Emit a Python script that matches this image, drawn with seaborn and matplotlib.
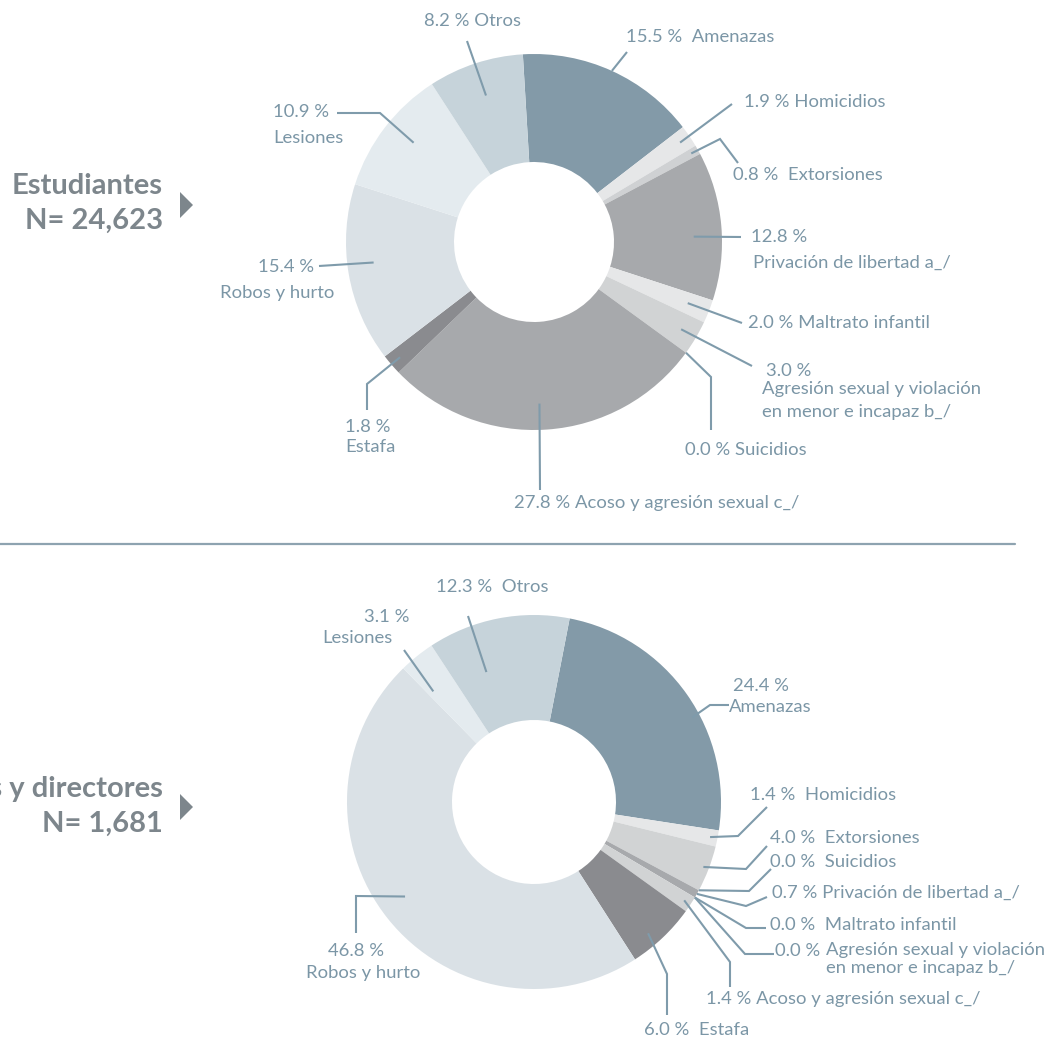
import matplotlib
matplotlib.use("Agg")
import matplotlib.pyplot as plt
from matplotlib.patches import Polygon
import numpy as np
import seaborn as sns

# ---------------- data ----------------
cats_top = ["Amenazas", "Homicidios", "Extorsiones", "Privación de libertad a_/",
            "Maltrato infantil", "Agresión sexual y violación en menor e incapaz b_/",
            "Suicidios", "Acoso y agresión sexual c_/", "Estafa", "Robos y hurto",
            "Lesiones", "Otros"]
vals_top = [15.5, 1.9, 0.8, 12.8, 2.0, 3.0, 0.0, 27.8, 1.8, 15.4, 10.9, 8.2]

cats_bot = ["Amenazas", "Homicidios", "Extorsiones", "Suicidios",
            "Privación de libertad a_/", "Maltrato infantil",
            "Agresión sexual y violación en menor e incapaz b_/",
            "Acoso y agresión sexual c_/", "Estafa", "Robos y hurto",
            "Lesiones", "Otros"]
vals_bot = [24.4, 1.4, 4.0, 0.0, 0.7, 0.0, 0.0, 1.4, 6.0, 46.8, 3.1, 12.3]

group_titles = [["Estudiantes", "N= 24,623"], ["Docentes y directores", "N= 1,681"]]

# ---------------- style ----------------
colors_top = ["#839aa8", "#e6e7e8", "#cfd1d3", "#a7a9ac", "#e6e7e8", "#d1d3d4",
              "#d1d3d4", "#a7a9ac", "#8a8b8f", "#dae1e6", "#e4ebef", "#c6d3da"]
colors_bot = ["#839aa8", "#e6e7e8", "#d1d3d4", "#d1d3d4", "#a7a9ac", "#e6e7e8",
              "#d1d3d4", "#d1d3d4", "#8a8b8f", "#dae1e6", "#e4ebef", "#c6d3da"]
LABEL_C = "#7b96a6"
LINE_C = "#7f9bab"
TITLE_C = "#7d868c"
LFS = 13.3
TFS = 21
W, H = 1053, 1040

sns.set_theme(style="white")
plt.rcParams["font.family"] = ["Lato", "DejaVu Sans"]

def Y(y):
    return H - y

def pct(v):
    return f"{v:.1f} %"

# layout: (start radius fraction, angle offset deg, extra path points (image px),
#          text lines (fmt, x, y, ha))
lay_top = {
    "Otros": (0.82, 0, [(467, 41)], [("{p} Otros", 472, 21, "center")]),
    "Amenazas": (1.0, 0, [(627, 52)], [("{p}  Amenazas", 626, 37, "left")]),
    "Homicidios": (0.94, 0, [(732, 104)], [("{p} Homicidios", 744, 102, "left")]),
    "Extorsiones": (0.96, 0, [(720, 139), (738, 163)], [("{p}  Extorsiones", 733, 175, "left")]),
    "Privación de libertad a_/": (0.85, -3, [(741, 237)], [("{p}", 751, 237, "left"),
                                                           ("Privación de libertad a_/", 753, 263, "left")]),
    "Maltrato infantil": (0.88, 0, [(742, 323)], [("{p} Maltrato infantil", 748, 323, "left")]),
    "Agresión sexual y violación en menor e incapaz b_/": (
        0.91, 0, [(752, 366)], [("{p}", 766, 371, "left"),
                                ("Agresión sexual y violación", 762, 389, "left"),
                                ("en menor e incapaz b_/", 762, 412, "left")]),
    "Suicidios": (1.0, 0, [(711, 377), (711, 430)], [("{p} Suicidios", 685, 450, "left")]),
    "Acoso y agresión sexual c_/": (0.86, -2, [(540, 490)], [("{p} Acoso y agresión sexual c_/", 514, 503, "left")]),
    "Estafa": (0.94, 0, [(367, 384), (367, 410)], [("{p}", 345, 427, "left"), ("Estafa", 345, 447, "left")]),
    "Robos y hurto": (0.86, -2.5, [(319, 266)], [("{p}", 314, 267, "right"), ("Robos y hurto", 277, 293, "center")]),
    "Lesiones": (0.83, -2, [(380, 113), (337, 113)], [("{p}", 273, 112, "left"), ("Lesiones", 273, 138, "left")]),
}
lay_bot = {
    "Otros": (0.74, 9, [(468, 616)], [("{p}  Otros", 436, 587, "left")]),
    "Lesiones": (0.80, 3.5, [(404, 650)], [("{p}", 410, 617, "right"), ("Lesiones", 393, 638, "right")]),
    "Amenazas": (0.96, -7, [(710, 705), (729, 705)], [("{p}", 733, 686, "left"), ("Amenazas", 729, 707, "left")]),
    "Homicidios": (0.96, 0, [(738, 836), (767, 807)], [("{p}  Homicidios", 750, 795, "left")]),
    "Extorsiones": (0.97, 0, [(746, 869), (767, 846)], [("{p}  Extorsiones", 770, 838, "left")]),
    "Suicidios": (1.0, 0, [(749, 891), (771, 869)], [("{p}  Suicidios", 770, 862, "left")]),
    "Privación de libertad a_/": (1.0, 0, [(746, 906), (767, 897)], [("{p} Privación de libertad a_/", 772, 893, "left")]),
    "Maltrato infantil": (1.0, 0, [(746, 928), (766, 928)], [("{p}  Maltrato infantil", 770, 925, "left")]),
    "Agresión sexual y violación en menor e incapaz b_/": (
        1.0, 0, [(745, 954), (774, 954)], [("{p}", 775, 951, "left"),
                                            ("Agresión sexual y violación", 826, 950, "left"),
                                            ("en menor e incapaz b_/", 826, 968, "left")]),
    "Acoso y agresión sexual c_/": (0.96, 0, [(730, 962), (730, 987)], [("{p} Acoso y agresión sexual c_/", 706, 999, "left")]),
    "Estafa": (0.93, -2.5, [(667, 974), (667, 1015)], [("{p}  Estafa", 644, 1030, "left")]),
    "Robos y hurto": (0.855, -2.3, [(356, 896), (356, 933)], [("{p}", 356, 951, "center"), ("Robos y hurto", 363, 973, "center")]),
}

charts = [
    dict(cats=cats_top, vals=vals_top, colors=colors_top, center=(534, 242), r=188, w=108,
         start=93.4, lay=lay_top, title=group_titles[0], ty=(186, 221), tri=205),
    dict(cats=cats_bot, vals=vals_bot, colors=colors_bot, center=(534, 802), r=187, w=105,
         start=79.0, lay=lay_bot, title=group_titles[1], ty=(789, 824), tri=807),
]

fig = plt.figure(figsize=(W / 100, H / 100), dpi=100)
ax = fig.add_axes([0, 0, 1, 1])

for ch in charts:
    cx, cy = ch["center"]
    wedges, _ = ax.pie(ch["vals"], colors=ch["colors"], startangle=ch["start"],
                       counterclock=False, radius=ch["r"], center=(cx, Y(cy)),
                       wedgeprops=dict(width=ch["w"], linewidth=0), normalize=True)
    for cat, val, wdg in zip(ch["cats"], ch["vals"], wedges):
        rf, dth, pts, lines = ch["lay"][cat]
        th = np.deg2rad((wdg.theta1 + wdg.theta2) / 2 + dth)
        sx = cx + rf * ch["r"] * np.cos(th)
        sy = Y(cy) + rf * ch["r"] * np.sin(th)
        xs = [sx] + [p[0] for p in pts]
        ys = [sy] + [Y(p[1]) for p in pts]
        ax.plot(xs, ys, color=LINE_C, lw=1.5, solid_capstyle="butt", solid_joinstyle="miter")
        for fmt, tx, ty, ha in lines:
            ax.text(tx, Y(ty), fmt.format(p=pct(val)), ha=ha, va="center",
                    fontsize=LFS, color=LABEL_C)
    # group title
    ax.text(163, Y(ch["ty"][0]), ch["title"][0], ha="right", va="center",
            fontsize=TFS, fontweight="bold", color=TITLE_C)
    ax.text(163, Y(ch["ty"][1]), ch["title"][1], ha="right", va="center",
            fontsize=TFS, fontweight="bold", color=TITLE_C)
    t = ch["tri"]
    ax.add_patch(Polygon([(180, Y(t - 13)), (180, Y(t + 13)), (193, Y(t))],
                         closed=True, color=TITLE_C, lw=0))

ax.plot([0, 1015], [Y(544), Y(544)], color="#8ea3b0", lw=1.6)

ax.set_xlim(0, W)
ax.set_ylim(0, H)
ax.set_aspect("auto")
ax.axis("off")

fig.savefig("out.png", dpi=100, facecolor="white")
